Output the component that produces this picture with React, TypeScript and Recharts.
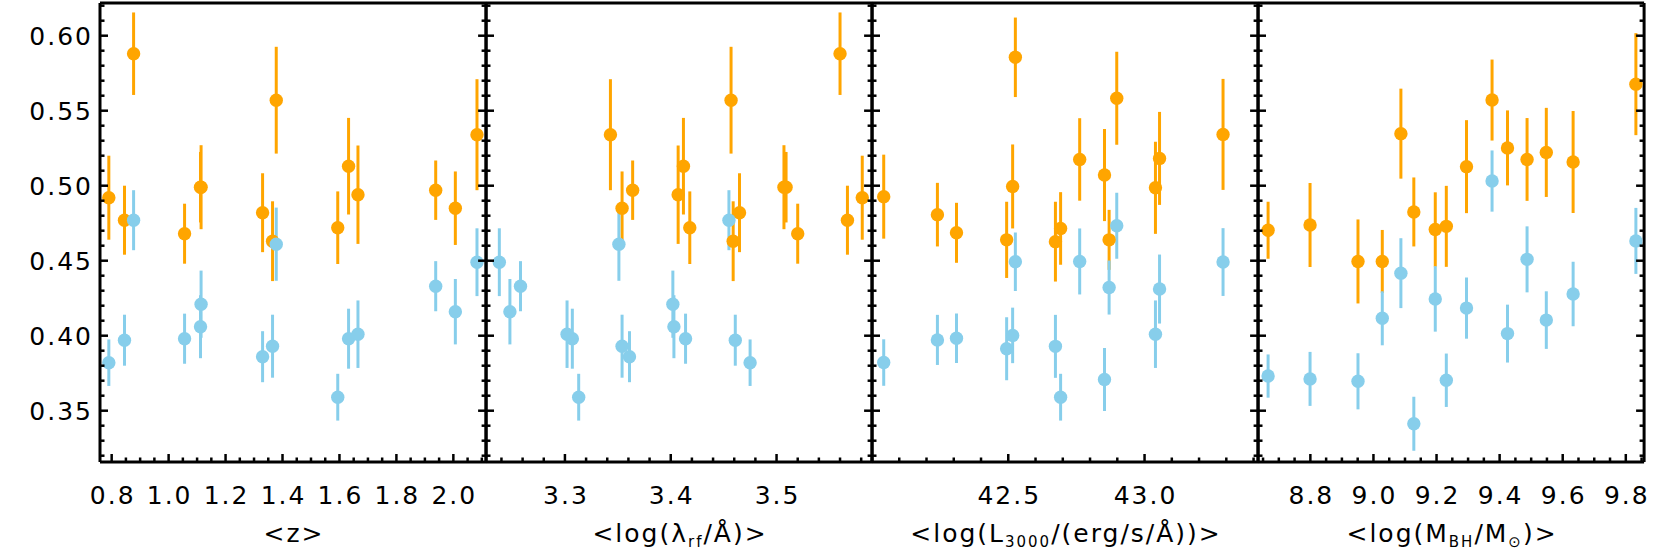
import React from 'react';
import { ScatterChart, Scatter, XAxis, YAxis, ErrorBar } from 'recharts';

const ORANGE = '#FFA500';
const BLUE = '#87CEEB';
const FONT = "'DejaVu Sans', sans-serif";

// ---------- data ----------
// Panel 1: redshift bins (shared by both samples)
const zBins = [0.790, 0.845, 0.877, 1.056, 1.114, 1.112, 1.330, 1.365, 1.378, 1.594, 1.632, 1.665, 1.938, 2.007, 2.083];
// Panel 2: rest-frame wavelength for each sample
const lamOrange = [3.581, 3.567, 3.560, 3.520, 3.507, 3.509, 3.465, 3.459, 3.457, 3.418, 3.412, 3.407, 3.364, 3.354, 3.343];
const lamBlue = [3.475, 3.461, 3.455, 3.414, 3.402, 3.403, 3.361, 3.354, 3.351, 3.313, 3.307, 3.302, 3.258, 3.248, 3.238];
// values of the z / lambda binning
const orangeYz = [0.492, 0.477, 0.588, 0.468, 0.499, 0.499, 0.482, 0.463, 0.557, 0.472, 0.513, 0.494, 0.497, 0.485, 0.534];
const orangeErrZ = [0.028, 0.023, 0.0275, 0.020, 0.028, 0.0235, 0.0263, 0.0266, 0.0356, 0.0242, 0.0322, 0.0328, 0.0198, 0.0245, 0.037];
const blueYz = [0.382, 0.397, 0.477, 0.398, 0.421, 0.406, 0.386, 0.393, 0.461, 0.359, 0.398, 0.401, 0.433, 0.416, 0.449];
const blueErrZ = [0.0155, 0.017, 0.020, 0.0167, 0.0224, 0.021, 0.017, 0.021, 0.0244, 0.0156, 0.020, 0.0225, 0.0167, 0.0218, 0.0226];

// Panel 3: luminosity bins
const lumBins = [42.043, 42.240, 42.310, 42.494, 42.516, 42.526, 42.673, 42.692, 42.762, 42.853, 42.870, 42.898, 43.040, 43.055, 43.288];
const orangeYL = [0.4927, 0.4807, 0.4686, 0.4639, 0.4995, 0.5856, 0.4627, 0.4715, 0.5175, 0.5071, 0.4639, 0.5583, 0.4986, 0.5182, 0.5342];
const orangeErrL = [0.028, 0.0212, 0.020, 0.0254, 0.028, 0.0265, 0.0266, 0.0242, 0.0275, 0.0307, 0.020, 0.031, 0.0307, 0.031, 0.037];
const blueYL = [0.3821, 0.3972, 0.3983, 0.3913, 0.4002, 0.4493, 0.3929, 0.359, 0.4495, 0.3708, 0.4321, 0.4733, 0.401, 0.4311, 0.4491];
const blueErrL = [0.0155, 0.0167, 0.0165, 0.021, 0.0185, 0.0195, 0.021, 0.0156, 0.022, 0.021, 0.018, 0.022, 0.0225, 0.023, 0.0226];

// Panel 4: black-hole mass bins
const mbhBins = [8.666, 8.799, 8.951, 9.028, 9.087, 9.128, 9.196, 9.231, 9.295, 9.376, 9.425, 9.487, 9.548, 9.633, 9.832];
const orangeYM = [0.4703, 0.4738, 0.4495, 0.4495, 0.5347, 0.4825, 0.4708, 0.4729, 0.5127, 0.5571, 0.5252, 0.5175, 0.5222, 0.5158, 0.5677];
const orangeErrM = [0.019, 0.028, 0.028, 0.021, 0.030, 0.023, 0.0248, 0.027, 0.031, 0.027, 0.025, 0.0276, 0.0297, 0.034, 0.034];
const blueYM = [0.3731, 0.3712, 0.3696, 0.4116, 0.4417, 0.3413, 0.4245, 0.3703, 0.4184, 0.5031, 0.4014, 0.4509, 0.4104, 0.4278, 0.4632];
const blueErrM = [0.0144, 0.018, 0.0187, 0.018, 0.0233, 0.018, 0.0218, 0.0178, 0.0204, 0.0204, 0.0193, 0.022, 0.0192, 0.0215, 0.022];

// ---------- ticks ----------
const yMajorTicks = [0.35, 0.40, 0.45, 0.50, 0.55, 0.60];
const yDomain: [number, number] = [0.3158, 0.6218];
const zMajorTicks = [0.8, 1.0, 1.2, 1.4, 1.6, 1.8, 2.0];
const lamMajorTicks = [3.3, 3.4, 3.5];
const lumMajorTicks = [42.5, 43.0];
const mbhMajorTicks = [8.8, 9.0, 9.2, 9.4, 9.6, 9.8];

// ---------- layout ----------
const PLOT_TOP = 3;
const PLOT_BOTTOM = 462;
const PLOT_W = 386.1;
const PLOT_LEFTS = [100, 486.1, 872.2, 1258.3];
const MARGIN = 110;
const H = 551;
const AX = 1; // axis thickness reserved by recharts

const build = (xs: number[], ys: number[], es: number[]) => xs.map((x, i) => ({ x, y: ys[i], e: es[i] }));

const allTicks = (domain: [number, number], step: number) => {
  const out: number[] = [];
  const start = Math.ceil(domain[0] / step - 1e-9);
  for (let k = start; k * step <= domain[1] + 1e-9; k++) out.push(Number((k * step).toFixed(6)));
  return out;
};
const isMajor = (v: number, majors: number[]) => majors.some((m) => Math.abs(m - v) < 1e-6);

const TEXT_STYLE = { fontFamily: FONT, fontSize: 25, letterSpacing: 2, fill: '#000' } as const;

const MAJ = 8;
const MIN = 4.5;
const TW = 2.5;

function makeBottomTick(majors: number[], digits: number) {
  return (props: any) => {
    const { x, y, payload } = props;
    const v = payload.value;
    const major = isMajor(v, majors);
    return (
      <g>
        <line x1={x} x2={x} y1={y} y2={y - (major ? MAJ : MIN)} stroke="#000" strokeWidth={TW} />
        {major && (
          <text x={x + 1} y={y + 42} textAnchor="middle" style={TEXT_STYLE}>
            {v.toFixed(digits)}
          </text>
        )}
      </g>
    );
  };
}
function makeTopTick(majors: number[]) {
  return (props: any) => {
    const { x, y, payload } = props;
    const major = isMajor(payload.value, majors);
    return <line x1={x} x2={x} y1={y} y2={y + (major ? MAJ : MIN)} stroke="#000" strokeWidth={TW} />;
  };
}
function makeLeftTick(showLabel: boolean) {
  return (props: any) => {
    const { x, y, payload } = props;
    const v = payload.value;
    const major = isMajor(v, yMajorTicks);
    return (
      <g>
        <line x1={x} x2={x + (major ? MAJ : MIN)} y1={y} y2={y} stroke="#000" strokeWidth={TW} />
        {major && showLabel && (
          <text x={x - 7} y={y + 9} textAnchor="end" style={TEXT_STYLE}>
            {v.toFixed(2)}
          </text>
        )}
      </g>
    );
  };
}
const rightTick = (props: any) => {
  const { x, y, payload } = props;
  const major = isMajor(payload.value, yMajorTicks);
  return <line x1={x} x2={x - (major ? MAJ : MIN)} y1={y} y2={y} stroke="#000" strokeWidth={TW} />;
};

const SUB = { fontSize: 15 } as const;

const titles: React.ReactNode[] = [
  <>&lt;z&gt;</>,
  <>
    &lt;log(λ<tspan dy={5} style={SUB}>rf</tspan>
    <tspan dy={-5}>/Å)&gt;</tspan>
  </>,
  <>
    &lt;log(L<tspan dy={5} style={SUB}>3000</tspan>
    <tspan dy={-5}>/(erg/s/Å))&gt;</tspan>
  </>,
  <>
    &lt;log(M<tspan dy={5} style={SUB}>BH</tspan>
    <tspan dy={-5}>/M</tspan>
    <tspan dy={5} style={SUB}>⊙</tspan>
    <tspan dy={-5}>)&gt;</tspan>
  </>,
];

type PanelProps = {
  index: number;
  xDomain: [number, number];
  majors: number[];
  minorStep: number;
  orange: { x: number; y: number; e: number }[];
  blue: { x: number; y: number; e: number }[];
};

const dot = (color: string) => (p: any) => <circle cx={p.cx} cy={p.cy} r={6.7} fill={color} />;

function Panel({ index, xDomain, majors, minorStep, orange, blue }: PanelProps) {
  const xTicks = allTicks(xDomain, minorStep);
  const yTicks = allTicks(yDomain, 0.01);
  const axisLine = { stroke: '#000', strokeWidth: 3 };
  const title = titles[index];
  const cx = MARGIN + PLOT_W / 2;
  const renderTitle = () => (
    <text x={cx + 1} y={PLOT_BOTTOM + 80} textAnchor="middle" style={TEXT_STYLE}>
      {title}
    </text>
  );
  return (
    <div style={{ position: 'absolute', left: PLOT_LEFTS[index] - MARGIN, top: 0 }}>
      <ScatterChart
        width={PLOT_W + 2 * MARGIN}
        height={H}
        margin={{ top: PLOT_TOP - AX, right: MARGIN - AX, bottom: H - PLOT_BOTTOM - AX, left: MARGIN - AX }}
      >
        <XAxis
          xAxisId="b"
          type="number"
          dataKey="x"
          orientation="bottom"
          domain={xDomain}
          allowDataOverflow
          ticks={xTicks}
          interval={0}
          height={AX}
          tickSize={0}
          tickMargin={0}
          tickLine={false}
          axisLine={axisLine}
          tick={makeBottomTick(majors, 1)}
          label={renderTitle}
        />
        <XAxis
          xAxisId="t"
          type="number"
          orientation="top"
          domain={xDomain}
          allowDataOverflow
          ticks={xTicks}
          interval={0}
          height={AX}
          tickSize={0}
          tickMargin={0}
          tickLine={false}
          axisLine={axisLine}
          tick={makeTopTick(majors)}
        />
        <YAxis
          yAxisId="l"
          type="number"
          dataKey="y"
          orientation="left"
          domain={yDomain}
          allowDataOverflow
          ticks={yTicks}
          interval={0}
          width={AX}
          tickSize={0}
          tickMargin={0}
          tickLine={false}
          axisLine={axisLine}
          tick={makeLeftTick(index === 0)}
        />
        <YAxis
          yAxisId="r"
          type="number"
          orientation="right"
          domain={yDomain}
          allowDataOverflow
          ticks={yTicks}
          interval={0}
          width={AX}
          tickSize={0}
          tickMargin={0}
          tickLine={false}
          axisLine={axisLine}
          tick={rightTick}
        />
        <Scatter data={orange} xAxisId="b" yAxisId="l" fill={ORANGE} isAnimationActive={false} shape={dot(ORANGE)}>
          <ErrorBar dataKey="e" direction="y" width={0} stroke={ORANGE} strokeWidth={3} isAnimationActive={false} />
        </Scatter>
        <Scatter data={blue} xAxisId="b" yAxisId="l" fill={BLUE} isAnimationActive={false} shape={dot(BLUE)}>
          <ErrorBar dataKey="e" direction="y" width={0} stroke={BLUE} strokeWidth={3} isAnimationActive={false} />
        </Scatter>
      </ScatterChart>
    </div>
  );
}

export default function App() {
  return (
    <div style={{ position: 'absolute', left: 0, top: 0, width: 1661, height: H, background: '#fff', overflow: 'hidden' }}>
      <Panel
        index={0}
        xDomain={[0.759, 2.115]}
        majors={zMajorTicks}
        minorStep={0.05}
        orange={build(zBins, orangeYz, orangeErrZ)}
        blue={build(zBins, blueYz, blueErrZ)}
      />
      <Panel
        index={1}
        xDomain={[3.2254, 3.5903]}
        majors={lamMajorTicks}
        minorStep={0.02}
        orange={build(lamOrange, orangeYz, orangeErrZ)}
        blue={build(lamBlue, blueYz, blueErrZ)}
      />
      <Panel
        index={2}
        xDomain={[42.0, 43.4166]}
        majors={lumMajorTicks}
        minorStep={0.1}
        orange={build(lumBins, orangeYL, orangeErrL)}
        blue={build(lumBins, blueYL, blueErrL)}
      />
      <Panel
        index={3}
        xDomain={[8.634, 9.858]}
        majors={mbhMajorTicks}
        minorStep={0.05}
        orange={build(mbhBins, orangeYM, orangeErrM)}
        blue={build(mbhBins, blueYM, blueErrM)}
      />
    </div>
  );
}
